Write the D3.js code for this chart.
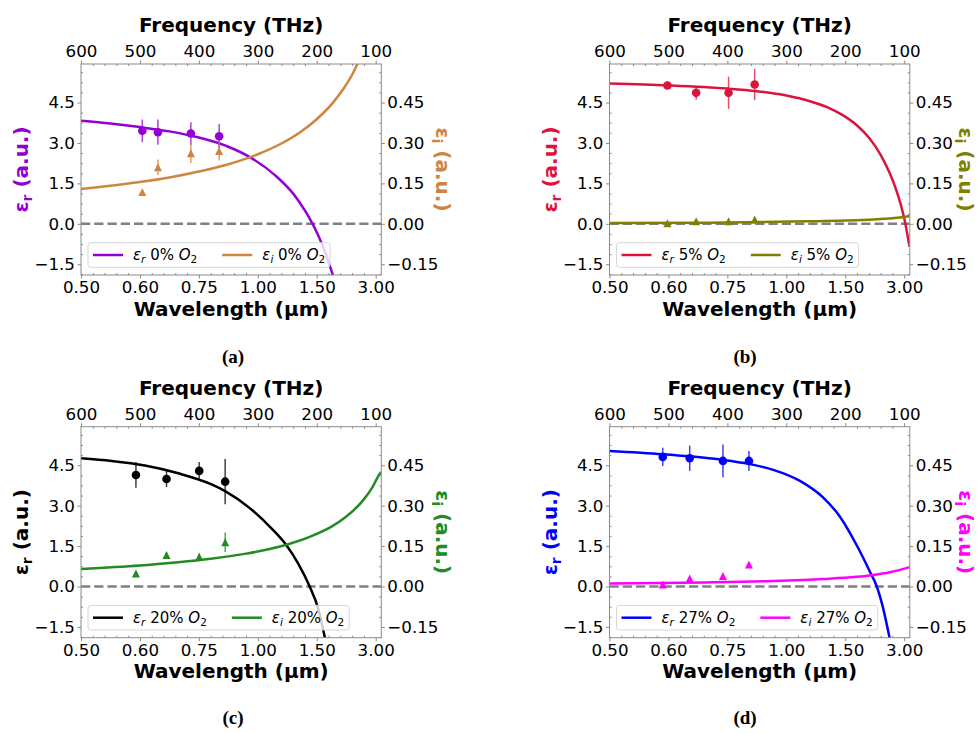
<!DOCTYPE html>
<html><head><meta charset="utf-8">
<script src="https://cdn.jsdelivr.net/npm/d3@7"></script>
<style>body{margin:0;background:#fff} svg{display:block}</style>
</head><body><svg id="c" width="980" height="733"></svg>
<script>
// ---------- axis ticks ----------
const freqTicks = [600, 500, 400, 300, 200, 100];
const wavelengthLabels = ["0.50", "0.60", "0.75", "1.00", "1.50", "3.00"];
const leftTicks = [-1.5, 0, 1.5, 3.0, 4.5];
const rightTicks = [-0.15, 0, 0.15, 0.30, 0.45];
const panelLabels = ["(a)", "(b)", "(c)", "(d)"];
const o2Levels = ["0%", "5%", "20%", "27%"];
const realColors = ["#9400D3", "#DC143C", "#000000", "#0000FF"];
const imagColors = ["#CD853F", "#808000", "#228B22", "#FF00FF"];

// ---------- panel (a) 0% O2 ----------
const aRealFitF = [600, 550, 500, 450, 400, 350, 310, 270, 240, 220, 207, 190, 172];
const aRealFitV = [3.82, 3.72, 3.59, 3.43, 3.20, 2.86, 2.43, 1.79, 1.12, 0.49, 0.0, -0.81, -1.95];
const aImagFitF = [600, 550, 500, 450, 400, 350, 300, 260, 230, 200, 175, 155, 140, 130];
const aImagFitV = [0.129, 0.141, 0.155, 0.172, 0.194, 0.221, 0.258, 0.298, 0.337, 0.388, 0.443, 0.500, 0.553, 0.598];
const aPtF = [496, 469.5, 413.6, 365.6];
const aPtReal = [3.45, 3.40, 3.35, 3.25];
const aPtRealErr = [0.42, 0.47, 0.42, 0.45];
const aPtImag = [0.118, 0.210, 0.262, 0.270];
const aPtImagErr = [0.005, 0.029, 0.036, 0.035];

// ---------- panel (b) 5% O2 ----------
const bRealFitF = [600, 500, 400, 350, 300, 260, 230, 205, 180, 160, 140, 125, 113, 105, 99, 91];
const bRealFitV = [5.21, 5.14, 5.02, 4.92, 4.76, 4.55, 4.32, 4.04, 3.65, 3.20, 2.56, 1.90, 1.22, 0.65, 0.10, -0.85];
const bImagFitF = [600, 435, 265.5, 200, 152.5, 125, 107.5, 90.5];
const bImagFitV = [0.003, 0.004, 0.009, 0.012, 0.016, 0.020, 0.023, 0.029];
const bPtF = [501.7, 453, 398, 353.7];
const bPtReal = [5.13, 4.86, 4.86, 5.17];
const bPtRealErr = [0.08, 0.26, 0.60, 0.58];
const bPtImag = [0.002, 0.009, 0.009, 0.016];
const bPtImagErr = [0.003, 0.003, 0.003, 0.004];

// ---------- panel (c) 20% O2 ----------
const cRealFitF = [600, 548.1, 491.5, 435, 378.5, 355.4, 310.8, 276.9, 251.5, 231.7, 212, 197.8, 186];
const cRealFitV = [4.76, 4.66, 4.49, 4.20, 3.79, 3.54, 2.86, 2.16, 1.53, 0.86, 0.0, -0.80, -1.92];
const cImagFitF = [600, 500, 435, 380, 322, 280, 250, 210, 175, 152, 124, 107, 93, 90.5];
const cImagFitV = [0.065, 0.078, 0.090, 0.103, 0.121, 0.139, 0.156, 0.186, 0.222, 0.256, 0.313, 0.363, 0.418, 0.425];
const cPtF = [506.8, 454.9, 399.5, 355.4];
const cPtReal = [4.14, 3.99, 4.29, 3.89];
const cPtRealErr = [0.48, 0.30, 0.33, 0.84];
const cPtImag = [0.048, 0.117, 0.110, 0.164];
const cPtImagErr = [0.004, 0.008, 0.012, 0.036];

// ---------- panel (d) 27% O2 ----------
const dRealFitF = [600, 509.7, 463.9, 407.5, 363.4, 322, 276.9, 237.3, 209, 180.8, 158.2, 146.5, 135.6, 124.4];
const dRealFitV = [5.03, 4.91, 4.83, 4.70, 4.55, 4.33, 3.92, 3.30, 2.59, 1.54, 0.55, 0.0, -0.82, -1.95];
const dImagFitF = [600, 435, 322, 237, 181, 152.5, 124.4, 90.5];
const dImagFitV = [0.011, 0.015, 0.0205, 0.028, 0.036, 0.043, 0.053, 0.072];
const dPtF = [509.7, 463.9, 407.5, 363.4];
const dPtReal = [4.81, 4.76, 4.66, 4.66];
const dPtRealErr = [0.34, 0.47, 0.61, 0.37];
const dPtImag = [0.007, 0.030, 0.039, 0.082];
const dPtImagErr = [0.003, 0.004, 0.004, 0.004];

const panels = [
  {realF: aRealFitF, realV: aRealFitV, imagF: aImagFitF, imagV: aImagFitV, ptF: aPtF, ptR: aPtReal, ptRE: aPtRealErr, ptI: aPtImag, ptIE: aPtImagErr},
  {realF: bRealFitF, realV: bRealFitV, imagF: bImagFitF, imagV: bImagFitV, ptF: bPtF, ptR: bPtReal, ptRE: bPtRealErr, ptI: bPtImag, ptIE: bPtImagErr},
  {realF: cRealFitF, realV: cRealFitV, imagF: cImagFitF, imagV: cImagFitV, ptF: cPtF, ptR: cPtReal, ptRE: cPtRealErr, ptI: cPtImag, ptIE: cPtImagErr},
  {realF: dRealFitF, realV: dRealFitV, imagF: dImagFitF, imagV: dImagFitV, ptF: dPtF, ptR: dPtReal, ptRE: dPtRealErr, ptI: dPtImag, ptIE: dPtImagErr}
];

// ---------- layout ----------
const svg = d3.select("#c");
const W = 300.3, H = 211;
const xDomain = [600, 90.5];
const yDomain = [-1.9, 5.93];
const origins = [[81, 64], [609.5, 64], [81, 426.7], [609.5, 426.7]];
const rightLabelOffset = [62, 56, 62, 56];
const subLabelPos = [[233, 356], [745, 356], [233, 717], [745, 717]];
const FONT = "DejaVu Sans";
const SPINE = "#8a8a8a";

const minorF = d3.range(580, 90, -20).filter(v => v % 100 !== 0);
const minorL = d3.range(-1.875, 5.93, 0.375).filter(v => Math.abs(v / 1.5 - Math.round(v / 1.5)) > 1e-6);
const minorR = minorL.map(v => v / 10);

panels.forEach((p, i) => {
  const [ox, oy] = origins[i];
  const g = svg.append("g").attr("transform", `translate(${ox},${oy})`);
  const x = d3.scaleLinear().domain(xDomain).range([0, W]);
  const yL = d3.scaleLinear().domain(yDomain).range([H, 0]);
  const yR = d3.scaleLinear().domain(yDomain.map(v => v / 10)).range([H, 0]);

  const clipId = "clip" + i;
  g.append("clipPath").attr("id", clipId).append("rect").attr("width", W).attr("height", H);
  const plot = g.append("g").attr("clip-path", `url(#${clipId})`);

  // zero dashed line
  plot.append("line").attr("x1", x(600)).attr("x2", x(90.5)).attr("y1", yL(0)).attr("y2", yL(0))
    .attr("stroke", "#808080").attr("stroke-width", 2.5).attr("stroke-dasharray", "9.25,4");

  const lineR = d3.line().x(d => x(d[0])).y(d => yL(d[1])).curve(d3.curveMonotoneX);
  const lineI = d3.line().x(d => x(d[0])).y(d => yR(d[1])).curve(d3.curveMonotoneX);

  plot.append("path").datum(p.realF.map((f, k) => [f, p.realV[k]])).attr("d", lineR)
    .attr("fill", "none").attr("stroke", realColors[i]).attr("stroke-width", 2.5);

  // real points
  p.ptF.forEach((f, k) => {
    plot.append("line").attr("x1", x(f)).attr("x2", x(f))
      .attr("y1", yL(p.ptR[k] - p.ptRE[k])).attr("y2", yL(p.ptR[k] + p.ptRE[k]))
      .attr("stroke", realColors[i]).attr("stroke-width", 1.5).attr("opacity", 0.75);
    plot.append("circle").attr("cx", x(f)).attr("cy", yL(p.ptR[k])).attr("r", 4.3).attr("fill", realColors[i]);
  });

  plot.append("path").datum(p.imagF.map((f, k) => [f, p.imagV[k]])).attr("d", lineI)
    .attr("fill", "none").attr("stroke", imagColors[i]).attr("stroke-width", 2.5);

  p.ptF.forEach((f, k) => {
    plot.append("line").attr("x1", x(f)).attr("x2", x(f))
      .attr("y1", yR(p.ptI[k] - p.ptIE[k])).attr("y2", yR(p.ptI[k] + p.ptIE[k]))
      .attr("stroke", imagColors[i]).attr("stroke-width", 1.5).attr("opacity", 0.75);
    const cx = x(f), cy = yR(p.ptI[k]), s = 4;
    plot.append("path").attr("d", `M${cx},${cy - s}L${cx + s},${cy + s}L${cx - s},${cy + s}Z`).attr("fill", imagColors[i]);
  });

  // frame
  g.append("rect").attr("width", W).attr("height", H).attr("fill", "none").attr("stroke", SPINE).attr("stroke-width", 1);

  function styleAxis(sel) {
    sel.select(".domain").remove();
    sel.selectAll(".tick line").attr("stroke", SPINE);
    sel.selectAll(".tick text").attr("font-family", FONT).attr("font-size", 16.7).attr("fill", "#000");
  }
  // major axes
  g.append("g").call(d3.axisTop(x).tickValues(freqTicks).tickSize(3.5).tickPadding(3.5).tickFormat(d3.format("d"))).call(styleAxis);
  g.append("g").attr("transform", `translate(0,${H})`)
    .call(d3.axisBottom(x).tickValues(freqTicks).tickSize(3.5).tickPadding(3).tickFormat((d, k) => wavelengthLabels[k])).call(styleAxis);
  g.append("g").call(d3.axisLeft(yL).tickValues(leftTicks).tickSize(3.5).tickPadding(2.5).tickFormat(d3.format(".1f"))).call(styleAxis);
  g.append("g").attr("transform", `translate(${W},0)`)
    .call(d3.axisRight(yR).tickValues(rightTicks).tickSize(3.5).tickPadding(2.5).tickFormat(d3.format(".2f"))).call(styleAxis);
  // minor ticks (inward)
  const noLab = () => "";
  g.append("g").call(d3.axisTop(x).tickValues(minorF).tickSize(-2).tickFormat(noLab)).call(styleAxis);
  g.append("g").attr("transform", `translate(0,${H})`).call(d3.axisBottom(x).tickValues(minorF).tickSize(-2).tickFormat(noLab)).call(styleAxis);
  g.append("g").call(d3.axisLeft(yL).tickValues(minorL).tickSize(-2).tickFormat(noLab)).call(styleAxis);
  g.append("g").attr("transform", `translate(${W},0)`).call(d3.axisRight(yR).tickValues(minorR).tickSize(-2).tickFormat(noLab)).call(styleAxis);

  // axis titles
  g.append("text").attr("x", W / 2).attr("y", -39).attr("dy", "0.36em").attr("text-anchor", "middle")
    .attr("font-family", FONT).attr("font-weight", "bold").attr("font-size", 20).text("Frequency (THz)");
  g.append("text").attr("x", W / 2).attr("y", H + 33.5).attr("dy", "0.36em").attr("text-anchor", "middle")
    .attr("font-family", FONT).attr("font-weight", "bold").attr("font-size", 20).text("Wavelength (\u00b5m)");

  const yl = g.append("text").attr("transform", `translate(-60,${H / 2}) rotate(-90)`).attr("text-anchor", "middle")
    .attr("dy", "0.36em").attr("font-family", FONT).attr("font-weight", "bold").attr("font-size", 20).attr("fill", realColors[i]);
  yl.append("tspan").text("\u03b5");
  yl.append("tspan").attr("font-size", 14).attr("dy", 4).text("r");
  yl.append("tspan").attr("dy", -4).text(" (a.u.)");

  const yr = g.append("text").attr("transform", `translate(${W + rightLabelOffset[i]},${H / 2}) rotate(90)`).attr("text-anchor", "middle")
    .attr("dy", "0.36em").attr("font-family", FONT).attr("font-weight", "bold").attr("font-size", 20).attr("fill", imagColors[i]);
  yr.append("tspan").text("\u03b5");
  yr.append("tspan").attr("font-size", 14).attr("dy", 4).text("i");
  yr.append("tspan").attr("dy", -4).text(" (a.u.)");

  // legend
  const lg = g.append("g").attr("transform", `translate(7,${H - 32.3})`);
  const box = lg.append("rect").attr("height", 24.6).attr("rx", 3).attr("fill", "#fff").attr("fill-opacity", 0.8)
    .attr("stroke", "#d6d6d6").attr("stroke-width", 1);
  const cy = 12.3;
  function legText(xp, sub) {
    const t = lg.append("text").attr("x", xp).attr("y", cy).attr("dy", "0.36em").attr("font-family", FONT).attr("font-size", 15);
    t.append("tspan").attr("font-style", "italic").text("\u03b5");
    t.append("tspan").attr("font-style", "italic").attr("font-size", 10.5).attr("dy", 3).text(sub);
    t.append("tspan").attr("dy", -3).text(" " + o2Levels[i] + " ");
    t.append("tspan").attr("font-style", "italic").text("O");
    t.append("tspan").attr("font-size", 10.5).attr("dy", 3).text("2");
    return t;
  }
  lg.append("line").attr("x1", 5).attr("x2", 35).attr("y1", cy).attr("y2", cy).attr("stroke", realColors[i]).attr("stroke-width", 2.5);
  const t1 = legText(45, "r");
  const e1 = 45 + t1.node().getComputedTextLength();
  const h2 = e1 + 25;
  lg.append("line").attr("x1", h2).attr("x2", h2 + 30).attr("y1", cy).attr("y2", cy).attr("stroke", imagColors[i]).attr("stroke-width", 2.5);
  const t2 = legText(h2 + 40, "i");
  const e2 = h2 + 40 + t2.node().getComputedTextLength();
  box.attr("width", e2 + 5);

  // sub-figure label
  svg.append("text").attr("x", subLabelPos[i][0]).attr("y", subLabelPos[i][1]).attr("dy", "0.36em").attr("text-anchor", "middle")
    .attr("font-family", "Liberation Serif").attr("font-weight", "bold").attr("font-size", 19).text(panelLabels[i]);
});
</script></body></html>
